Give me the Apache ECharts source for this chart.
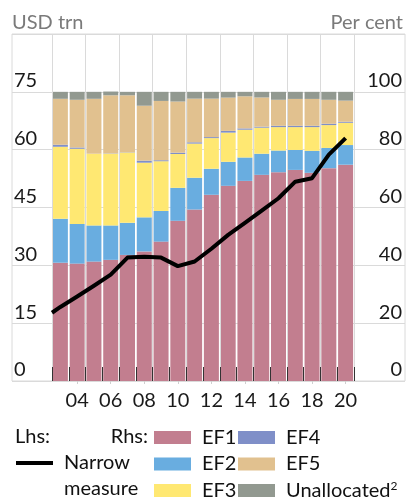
<!DOCTYPE html>
<html>
<head>
<meta charset="utf-8">
<script src="https://cdn.jsdelivr.net/npm/echarts@6/dist/echarts.min.js"></script>
<style>
html, body { margin: 0; padding: 0; background: #fff; }
#chart { width: 406px; height: 497px; }
</style>
</head>
<body>
<div id="chart"></div>
<script>
// years 2003-2020, labels shown every other year
const years = ['03','04','05','06','07','08','09','10','11','12','13','14','15','16','17','18','19','20']

// shares, per cent (rhs)
const ef1 = [40.9, 40.6, 41.3, 41.9, 43.6, 44.8, 48.2, 55.4, 59.3, 64.4, 67.5, 69.2, 71.3, 72.2, 73.0, 72.0, 73.6, 74.8]
const ef2 = [15.2, 13.7, 12.5, 11.9, 11.1, 11.8, 10.6, 11.4, 11.0, 9.0, 8.3, 8.1, 7.3, 7.5, 6.9, 7.6, 7.0, 6.8]
const ef3 = [24.9, 26.0, 24.8, 24.8, 24.3, 18.9, 17.2, 11.7, 11.8, 10.6, 10.1, 9.6, 9.0, 8.1, 7.9, 8.2, 7.9, 7.7]
const ef4 = [0.7, 0.45, 0, 0.1, 0.1, 0.7, 0.35, 0.45, 0.45, 0.35, 0.6, 0.45, 0.35, 0.45, 0.45, 0.45, 0.45, 0.35]
const ef5 = [15.9, 16.5, 19.0, 20.1, 19.7, 19.0, 20.5, 17.7, 15.1, 13.3, 11.5, 11.1, 10.1, 9.0, 9.3, 9.3, 8.3, 7.3]
const unalloc = [2.4, 2.75, 2.4, 1.3, 1.2, 4.8, 3.15, 3.35, 2.35, 2.35, 2.0, 1.55, 1.95, 2.75, 2.45, 2.45, 2.75, 3.05]

// narrow measure, USD trn (lhs); x is the slot position, -0.5 = left edge of 2003
const narrowX = [-0.5, 0, 1, 2, 3, 4, 5, 6, 7, 8, 9, 10, 11, 12, 13, 14, 15, 16, 17]
const narrow = [17.7, 19.2, 21.9, 24.7, 27.6, 32.0, 32.2, 32.0, 29.8, 31.0, 34.3, 37.9, 41.0, 44.2, 47.4, 51.7, 52.6, 58.7, 63.0]

const leftTicks = [0, 15, 30, 45, 60, 75]
const rightTicks = [0, 20, 40, 60, 80, 100]

const colors = {
  ef1: '#c27e8f',
  ef2: '#69ade0',
  ef3: '#ffe872',
  ef4: '#7f8fc8',
  ef5: '#e1c18f',
  unalloc: '#929990'
}

const FONT = 'Lato'
const GRID_LINE = '#dadada'

const chart = echarts.init(document.getElementById('chart'), null, { renderer: 'canvas' })

function barSeries(name, data, color) {
  return {
    name,
    type: 'bar',
    xAxisIndex: 1,
    yAxisIndex: 3,
    stack: 'ef',
    barWidth: 15,
    data,
    itemStyle: { color },
    emphasis: { disabled: true }
  }
}

const legendBase = {
  orient: 'vertical',
  padding: 0,
  height: 100,
  icon: 'rect',
  itemWidth: 37,
  itemHeight: 13,
  itemGap: 6.5,
  selectedMode: false,
  textStyle: {
    fontFamily: FONT,
    fontSize: 20,
    color: '#111',
    lineHeight: 20,
    padding: [0, 0, 0, 6]
  }
}

chart.setOption({
  animation: false,
  textStyle: { fontFamily: FONT },
  grid: [
    { left: 12, right: 1, top: 34, bottom: 116, show: true, borderColor: GRID_LINE, borderWidth: 1 },
    { left: 52, right: 52, top: 34, bottom: 116 }
  ],
  xAxis: [
    { gridIndex: 0, type: 'value', show: false },
    {
      gridIndex: 1,
      type: 'category',
      data: years,
      boundaryGap: true,
      position: 'bottom',
      z: 5,
      axisLine: { show: false },
      axisTick: { show: true, inside: true, length: 14, interval: 0, lineStyle: { color: '#333', width: 1 } },
      splitLine: { show: true, interval: 1, lineStyle: { color: GRID_LINE, width: 1 } },
      axisLabel: {
        interval: (i) => i % 2 === 1,
        fontFamily: FONT,
        fontSize: 20,
        color: '#1a1a1a',
        margin: 10
      }
    },
    { gridIndex: 1, type: 'value', min: -0.5, max: 17.5, show: false },
    {
      gridIndex: 1,
      type: 'category',
      data: years,
      position: 'bottom',
      axisLine: { show: false },
      axisLabel: { show: false },
      axisTick: { show: true, alignWithLabel: true, interval: (i) => i % 2 === 1, length: 3, lineStyle: { color: '#cfcfcf' } },
      splitLine: { show: false }
    }
  ],
  yAxis: [
    {
      gridIndex: 0,
      type: 'value',
      position: 'left',
      min: 0,
      max: 90,
      interval: 15,
      name: 'USD trn',
      nameLocation: 'end',
      nameGap: 1,
      nameTextStyle: { align: 'left', verticalAlign: 'bottom', color: '#7a7a7a', fontSize: 20, fontFamily: FONT },
      axisLine: { show: false },
      axisTick: { show: false },
      splitLine: { show: true, lineStyle: { color: GRID_LINE, width: 1 } },
      axisLabel: {
        inside: true,
        margin: 2,
        verticalAlign: 'bottom',
        padding: [0, 0, 1, 0],
        fontFamily: FONT,
        fontSize: 20,
        color: '#1a1a1a',
        formatter: (v) => (leftTicks.includes(v) ? String(v) : '')
      }
    },
    {
      gridIndex: 0,
      type: 'value',
      position: 'right',
      min: 0,
      max: 120,
      interval: 20,
      name: 'Per cent',
      nameLocation: 'end',
      nameGap: 1,
      nameTextStyle: { align: 'right', verticalAlign: 'bottom', color: '#7a7a7a', fontSize: 20, fontFamily: FONT, padding: [0, 2, 0, 0] },
      axisLine: { show: false },
      axisTick: { show: false },
      splitLine: { show: false },
      axisLabel: {
        inside: true,
        margin: 3,
        verticalAlign: 'bottom',
        padding: [0, 0, 1, 0],
        fontFamily: FONT,
        fontSize: 20,
        color: '#1a1a1a',
        formatter: (v) => (rightTicks.includes(v) ? String(v) : '')
      }
    },
    { gridIndex: 1, type: 'value', min: 0, max: 90, show: false },
    { gridIndex: 1, type: 'value', min: 0, max: 120, show: false }
  ],
  legend: [
    Object.assign({}, legendBase, { left: 154, top: 427.5, data: ['EF1', 'EF2', 'EF3'] }),
    Object.assign({}, legendBase, {
      left: 238,
      top: 427.5,
      data: ['EF4', 'EF5', 'Unallocated'],
      formatter: (name) => (name === 'Unallocated' ? 'Unallocated{sup|2}' : name),
      textStyle: Object.assign({}, legendBase.textStyle, {
        rich: { sup: { fontFamily: FONT, fontSize: 12, color: '#111', verticalAlign: 'top', lineHeight: 12 } }
      })
    }),
    {
      left: 16,
      top: 424,
      height: 100,
      padding: 0,
      selectedMode: false,
      icon: 'rect',
      itemWidth: 37,
      itemHeight: 4,
      data: ['Narrow measure'],
      // empty first line keeps the icon level with "Narrow"
      formatter: () => '\nNarrow\nmeasure',
      textStyle: {
        fontFamily: FONT,
        fontSize: 20,
        color: '#111',
        lineHeight: 26,
        padding: [0, 0, 0, 6]
      }
    }
  ],
  graphic: [
    { type: 'text', left: 15, top: 427, style: { text: 'Lhs:', font: '20px ' + FONT, fill: '#111' } },
    { type: 'text', right: 406 - 148, top: 427, style: { text: 'Rhs:', font: '20px ' + FONT, fill: '#111' } }
  ],
  series: [
    barSeries('EF1', ef1, colors.ef1),
    barSeries('EF2', ef2, colors.ef2),
    barSeries('EF3', ef3, colors.ef3),
    barSeries('EF4', ef4, colors.ef4),
    barSeries('EF5', ef5, colors.ef5),
    barSeries('Unallocated', unalloc, colors.unalloc),
    {
      name: 'Narrow measure',
      type: 'line',
      xAxisIndex: 2,
      yAxisIndex: 2,
      data: narrowX.map((x, i) => [x, narrow[i]]),
      symbol: 'none',
      z: 10,
      itemStyle: { color: '#000' },
      lineStyle: { color: '#000', width: 4, join: 'round' },
      emphasis: { disabled: true }
    }
  ]
})

window.addEventListener('resize', () => chart.resize())
</script>
</body>
</html>
